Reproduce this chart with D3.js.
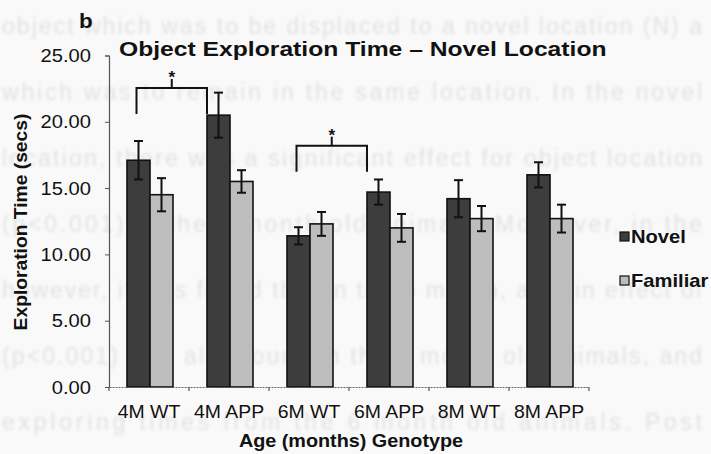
<!DOCTYPE html>
<html>
<head>
<meta charset="utf-8">
<script src="https://cdn.jsdelivr.net/npm/d3@7"></script>
<style>
  html, body { margin: 0; padding: 0; background: #f9f9f9; }
  svg { display: block; font-family: "Liberation Sans", Arial, sans-serif; }
</style>
</head>
<body>
<svg id="chart" width="711" height="454"></svg>
<script>
// Mean exploration time (secs) per age/genotype group, with SEM
const categories = ["4M WT", "4M APP", "6M WT", "6M APP", "8M WT", "8M APP"];
const seriesNames = ["Novel", "Familiar"];
const novelMeans    = [17.1, 20.5, 11.4, 14.7, 14.2, 16.0];
const novelErrors   = [1.45, 1.7, 0.65, 0.95, 1.4, 0.95];
const familiarMeans = [14.5, 15.5, 12.3, 12.0, 12.7, 12.7];
const familiarErrors= [1.25, 0.85, 0.9, 1.05, 0.95, 1.05];
const yTicks = [0, 5, 10, 15, 20, 25];
// significance brackets between Novel bars, with the height (secs) of the bar across
const brackets = [
  { from: "4M WT", to: "4M APP", level: 22.55, label: "*" },
  { from: "6M WT", to: "6M APP", level: 18.2, label: "*" }
];
// faint print showing through from the other side of the page
const backLines = [
  "object which was to be displaced to a novel location (N) a",
  "which was to remain in the same location.  In the novel",
  "location, there was a significant effect for object location",
  "(p<0.001) in the 4 month old animals.  Moreover, in the",
  "however, it was found that in the 6 month, a main effect of",
  "(p<0.001) was also found in the 8 month old animals, and",
  "exploring times from the 6 month old animals.  Post"
];

const colors = { Novel: "#3d3d3d", Familiar: "#bdbdbd" };
const SX = 1.12; // horizontal stretch of lettering

const svg = d3.select("#chart");
const defs = svg.append("defs");
defs.append("filter").attr("id", "soft")
  .append("feGaussianBlur").attr("stdDeviation", 1.5);

// text helper with slight horizontal stretch
function label(g, x, y, txt, opts = {}) {
  return g.append("text")
    .attr("transform", `translate(${x},${y})` + (opts.rotate ? ` rotate(${opts.rotate})` : "") + ` scale(${opts.sx ?? SX},1)`)
    .attr("text-anchor", opts.anchor || "start")
    .attr("font-size", opts.size || 18)
    .attr("font-weight", opts.weight || "normal")
    .attr("fill", opts.fill || "#111")
    .text(txt);
}

// bleed-through text
const back = svg.append("g").attr("filter", "url(#soft)").attr("opacity", 0.13);
backLines.forEach((s, i) => {
  back.append("text")
    .attr("x", 2).attr("y", 34 + i * 66)
    .attr("font-size", 23)
    .attr("fill", "#444")
    .attr("textLength", 700)
    .attr("lengthAdjust", "spacing")
    .text(s);
});

const margin = { left: 109, right: 122, top: 55.5, bottom: 67 };
const W = 711, H = 454;

const x = d3.scaleBand().domain(categories).range([margin.left, W - margin.right]).padding(0);
const x1 = d3.scaleBand().domain(seriesNames).range([18, 64]).padding(0);
const y = d3.scaleLinear().domain([0, 25]).range([H - margin.bottom, margin.top]);

const rows = categories.map((c, i) => ({
  cat: c,
  vals: [
    { s: "Novel", v: novelMeans[i], e: novelErrors[i] },
    { s: "Familiar", v: familiarMeans[i], e: familiarErrors[i] }
  ]
}));

// bars
const groups = svg.append("g").selectAll("g").data(rows).join("g")
  .attr("transform", d => `translate(${x(d.cat)},0)`);
groups.selectAll("rect").data(d => d.vals).join("rect")
  .attr("x", d => x1(d.s))
  .attr("y", d => y(d.v))
  .attr("width", x1.bandwidth())
  .attr("height", d => y(0) - y(d.v))
  .attr("fill", d => colors[d.s])
  .attr("stroke", "#111")
  .attr("stroke-width", 1.6);

// error bars
const eb = groups.selectAll("g.err").data(d => d.vals).join("g").attr("class", "err")
  .attr("stroke", "#111").attr("stroke-width", 2);
eb.append("line")
  .attr("x1", d => x1(d.s) + x1.bandwidth() / 2).attr("x2", d => x1(d.s) + x1.bandwidth() / 2)
  .attr("y1", d => y(d.v + d.e)).attr("y2", d => y(d.v - d.e));
[1, -1].forEach(sg => {
  eb.append("line")
    .attr("x1", d => x1(d.s) + x1.bandwidth() / 2 - 4.5).attr("x2", d => x1(d.s) + x1.bandwidth() / 2 + 4.5)
    .attr("y1", d => y(d.v + sg * d.e)).attr("y2", d => y(d.v + sg * d.e));
});

// y axis
const yAxis = svg.append("g").attr("transform", `translate(${margin.left},0)`)
  .call(d3.axisLeft(y).tickValues(yTicks).tickSize(4).tickFormat(""));
yAxis.select(".domain").attr("stroke", "#555").attr("stroke-width", 1.2);
yAxis.selectAll(".tick line").attr("stroke", "#555");
yTicks.forEach(v => label(svg, 91, y(v) + 6.5, d3.format(".2f")(v), { anchor: "end", size: 18 }));

// x axis
const xAxis = svg.append("g").attr("transform", `translate(0,${y(0)})`)
  .call(d3.axisBottom(x).tickSize(0).tickFormat(""));
xAxis.select(".domain").attr("stroke", "#666").attr("stroke-width", 1.2).attr("stroke-dasharray", "2,1");
const bounds = categories.map(c => x(c) + x.bandwidth());
svg.append("g").selectAll("line").data([margin.left, ...bounds]).join("line")
  .attr("x1", d => d).attr("x2", d => d)
  .attr("y1", y(0)).attr("y2", y(0) + 4)
  .attr("stroke", "#555").attr("stroke-width", 1.2);
categories.forEach(c => label(svg, x(c) + x.bandwidth() / 2, 418, c, { anchor: "middle", size: 18, sx: 1.08 }));

// significance brackets
const bg = svg.append("g").attr("stroke", "#111").attr("stroke-width", 2).attr("fill", "none");
brackets.forEach(b => {
  const xa = x(b.from) + x1("Novel") + x1.bandwidth() / 2 - 2;
  const xb = x(b.to) + x1("Novel");
  const yTop = y(b.level);
  const legDrop = 26;
  bg.append("path").attr("d", `M${xa},${yTop + legDrop}V${yTop}H${xb}V${yTop + legDrop}`);
  const xm = (xa + xb) / 2;
  bg.append("line").attr("x1", xm).attr("x2", xm).attr("y1", yTop).attr("y2", yTop - 9);
  label(svg, xm, yTop - 5, b.label, { anchor: "middle", size: 17, weight: "bold", sx: 1 });
});

// titles
label(svg, 79, 28, "b", { size: 20, weight: "bold" });
label(svg, 119, 56, "Object Exploration Time \u2013 Novel Location", { size: 21, weight: "bold", sx: 1.175 });
label(svg, 351, 447, "Age (months) Genotype", { anchor: "middle", size: 18, weight: "bold", sx: 1.1 });
label(svg, 27, 222, "Exploration Time (secs)", { anchor: "middle", size: 18, weight: "bold", rotate: -90, sx: 1.07 });

// legend
const leg = svg.append("g").attr("transform", "translate(620,0)");
seriesNames.forEach((s, i) => {
  const yy = 236 + i * 44;
  leg.append("rect").attr("x", 0).attr("y", yy - 4).attr("width", 9).attr("height", 9)
    .attr("fill", colors[s]).attr("stroke", "#111").attr("stroke-width", 1.2);
  label(leg, 11, yy + 6.5, s, { size: 18, weight: "bold" });
});
</script>
</body>
</html>
